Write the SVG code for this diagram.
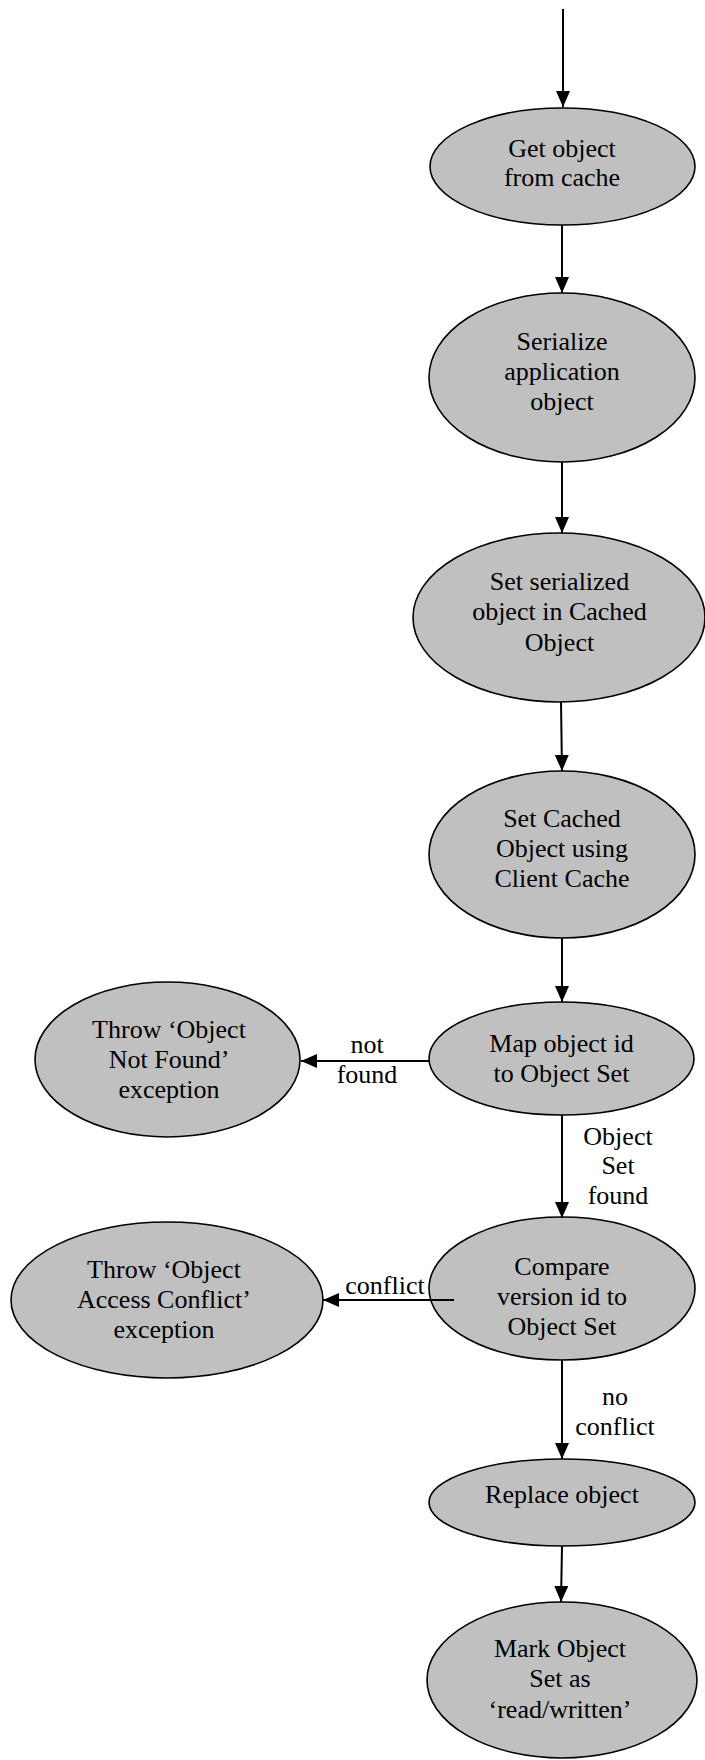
<svg xmlns="http://www.w3.org/2000/svg" width="705" height="1760" viewBox="0 0 705 1760">
<style>
.n{fill:#c0c0c0;stroke:#000;stroke-width:1.6}
.t{font-family:"Liberation Serif","Times New Roman",serif;font-size:26px;fill:#000;text-anchor:middle}
.c{stroke:#000;stroke-width:2;fill:none;marker-end:url(#ah)}
</style>
<defs>
<marker id="ah" viewBox="0 0 16 14" refX="16" refY="7" markerWidth="16" markerHeight="14" markerUnits="userSpaceOnUse" orient="auto">
<path d="M0,0 L16,7 L0,14 Z" fill="#000"/>
</marker>
</defs>
<rect width="705" height="1760" fill="#fff"/>
<g id="get-object">
<ellipse class="n" cx="562.5" cy="166.5" rx="132.5" ry="58.5"/>
<text class="t" x="562" y="157">Get object</text>
<text class="t" x="562" y="186">from cache</text>
</g>
<g id="serialize">
<ellipse class="n" cx="562" cy="377.5" rx="133" ry="84.5"/>
<text class="t" x="562" y="350">Serialize</text>
<text class="t" x="562" y="380">application</text>
<text class="t" x="562" y="410">object</text>
</g>
<g id="set-serialized">
<ellipse class="n" cx="559" cy="617.5" rx="146" ry="84.5"/>
<text class="t" x="559.5" y="590">Set serialized</text>
<text class="t" x="559.5" y="620">object in Cached</text>
<text class="t" x="559.5" y="651">Object</text>
</g>
<g id="set-cached">
<ellipse class="n" cx="562" cy="854.5" rx="133" ry="83.5"/>
<text class="t" x="562" y="827">Set Cached</text>
<text class="t" x="562" y="857">Object using</text>
<text class="t" x="562" y="887">Client Cache</text>
</g>
<g id="map-object">
<ellipse class="n" cx="561.5" cy="1058.5" rx="132.5" ry="56.5"/>
<text class="t" x="561.5" y="1052">Map object id</text>
<text class="t" x="561.5" y="1082">to Object Set</text>
</g>
<g id="not-found">
<ellipse class="n" cx="167.5" cy="1059.5" rx="132.5" ry="77.5"/>
<text class="t" x="169" y="1038">Throw ‘Object</text>
<text class="t" x="169" y="1068">Not Found’</text>
<text class="t" x="169" y="1098">exception</text>
</g>
<g id="compare">
<ellipse class="n" cx="562" cy="1288.5" rx="133" ry="71.5"/>
<text class="t" x="562" y="1275">Compare</text>
<text class="t" x="562" y="1305">version id to</text>
<text class="t" x="562" y="1335">Object Set</text>
</g>
<g id="access-conflict">
<ellipse class="n" cx="167" cy="1300" rx="156" ry="78"/>
<text class="t" x="164" y="1278">Throw ‘Object</text>
<text class="t" x="164" y="1308">Access Conflict’</text>
<text class="t" x="164" y="1338">exception</text>
</g>
<g id="replace">
<ellipse class="n" cx="562" cy="1502.5" rx="133" ry="43.5"/>
<text class="t" x="562" y="1503">Replace object</text>
</g>
<g id="mark">
<ellipse class="n" cx="562" cy="1680" rx="135" ry="78"/>
<text class="t" x="560" y="1657">Mark Object</text>
<text class="t" x="560" y="1687">Set as</text>
<text class="t" x="560" y="1718">‘read/written’</text>
</g>
<g id="connectors">
<line class="c" x1="563" y1="9" x2="563" y2="107"/>
<line class="c" x1="562" y1="225" x2="562" y2="293"/>
<line class="c" x1="562" y1="462" x2="562" y2="533"/>
<line class="c" x1="561" y1="702" x2="562" y2="771"/>
<line class="c" x1="562" y1="938" x2="562" y2="1002"/>
<line class="c" x1="429" y1="1061" x2="301" y2="1061"/>
<line class="c" x1="562" y1="1115" x2="562" y2="1218"/>
<line class="c" x1="454" y1="1300" x2="323" y2="1300"/>
<line class="c" x1="562" y1="1360" x2="562" y2="1459"/>
<line class="c" x1="562" y1="1546" x2="561" y2="1602"/>
<text class="t" x="367" y="1053">not</text>
<text class="t" x="367" y="1083">found</text>
<text class="t" x="618" y="1145">Object</text>
<text class="t" x="618" y="1174">Set</text>
<text class="t" x="618" y="1204">found</text>
<text class="t" x="385" y="1294">conflict</text>
<text class="t" x="615" y="1405">no</text>
<text class="t" x="615" y="1435">conflict</text>
</g>
</svg>
